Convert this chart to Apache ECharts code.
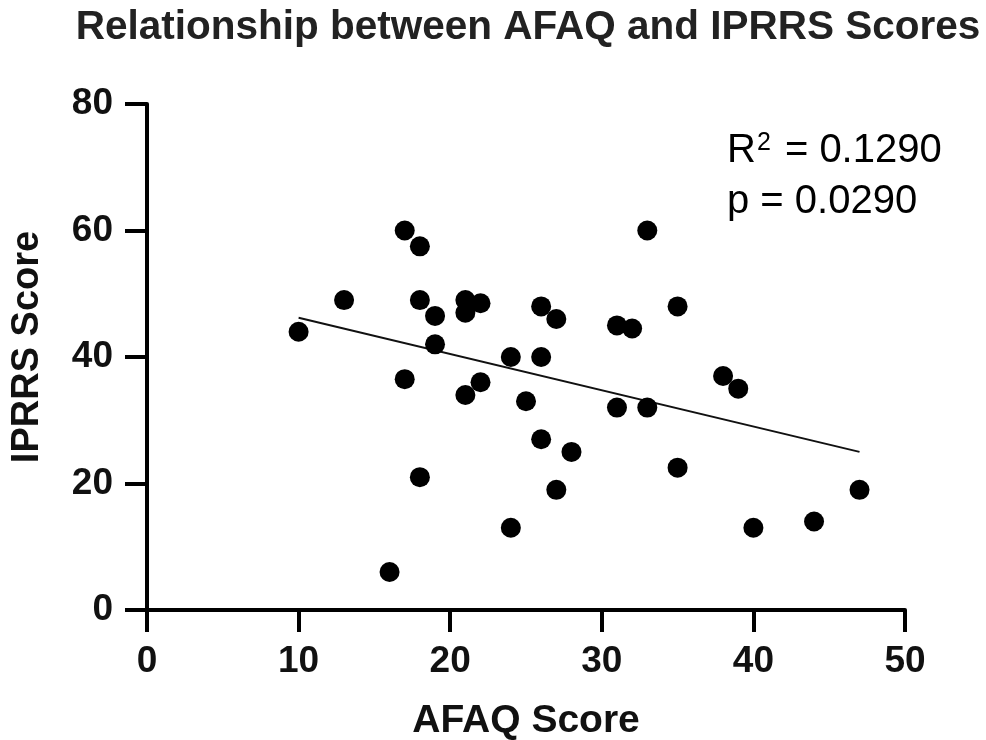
<!DOCTYPE html>
<html lang="en">
<head>
	<meta charset="UTF-8">
	<title>AFAQ vs IPRRS</title>
	<script src="https://cdn.jsdelivr.net/npm/echarts@6/dist/echarts.min.js"></script>
	<style>
		html, body { margin: 0; padding: 0; background: #fff; }
	</style>
</head>
<body>
	<div id="main" style="width:986px; height:740px"></div>
	<script>
		// AFAQ score per participant
		var afaq = [10, 13, 17, 18, 18, 19, 19, 17, 21, 21, 22, 21, 22, 16, 18, 24, 24, 25,
			26, 26, 27, 26, 27, 28, 31, 32, 31, 33, 33, 35, 35, 38, 39, 40, 44, 47];
		// IPRRS score per participant
		var iprrs = [44, 49, 60, 57.5, 49, 46.5, 42, 36.5, 49, 47, 48.5, 34, 36, 6, 21, 13, 40, 33,
			48, 40, 46, 27, 19, 25, 45, 44.5, 32, 60, 32, 48, 22.5, 37, 35, 13, 14, 19];
		// fitted line ends
		var fitX = [10, 47];
		var fitY = [46.2, 25.0];
		var xTicks = [0, 10, 20, 30, 40, 50];
		var yTicks = [0, 20, 40, 60, 80];

		var pts = afaq.map(function (v, i) { return [v, iprrs[i]]; });
		var fit = fitX.map(function (v, i) { return [v, fitY[i]]; });
		var font = "'Liberation Sans', Arial, sans-serif";

		var myChart = echarts.init(document.getElementById("main"));
		myChart.setOption({
			animation: false,
			title: {
				text: "Relationship between AFAQ and IPRRS Scores",
				left: 523,
				top: 2,
				textAlign: "center",
				textStyle: { fontFamily: font, fontSize: 40.5, fontWeight: "bold", color: "#222" }
			},
			grid: { left: 147, right: 81, top: 104, bottom: 130, containLabel: false, outerBoundsMode: "none" },
			xAxis: {
				type: "value",
				min: xTicks[0],
				max: xTicks[xTicks.length - 1],
				interval: 10,
				name: "AFAQ Score",
				nameLocation: "middle",
				nameGap: 92,
				nameTextStyle: { fontFamily: font, fontSize: 39, fontWeight: "bold", color: "#111" },
				axisLine: { lineStyle: { color: "#000", width: 4 } },
				axisTick: { length: 22, lineStyle: { color: "#000", width: 4 } },
				axisLabel: { fontFamily: font, fontSize: 37, fontWeight: "bold", color: "#111", margin: 33 },
				splitLine: { show: false }
			},
			yAxis: {
				type: "value",
				min: yTicks[0],
				max: yTicks[yTicks.length - 1],
				interval: 20,
				name: "IPRRS Score",
				nameLocation: "middle",
				nameGap: 100,
				nameTextStyle: { fontFamily: font, fontSize: 38, fontWeight: "bold", color: "#111", padding: [0, 0, 0, 20] },
				axisLine: { lineStyle: { color: "#000", width: 4 } },
				axisTick: { length: 22, lineStyle: { color: "#000", width: 4 } },
				axisLabel: { fontFamily: font, fontSize: 37, fontWeight: "bold", color: "#111", margin: 34 },
				splitLine: { show: false }
			},
			graphic: [{
				type: "text",
				left: 727,
				top: 125,
				style: {
					text: "{a|R}{s|2}{a| = 0.1290}\n{a|p = 0.0290}",
					rich: {
						a: { fontFamily: font, fontSize: 40, color: "#111", lineHeight: 51 },
						s: { fontFamily: font, fontSize: 25, color: "#111", verticalAlign: "top", lineHeight: 51, padding: [6, 3, 0, 1] }
					}
				}
			}],
			series: [{
				type: "scatter",
				data: pts,
				symbolSize: 20,
				itemStyle: { color: "#000", opacity: 1 }
			}, {
				type: "line",
				data: fit,
				showSymbol: false,
				lineStyle: { color: "#111", width: 2 },
				z: 1
			}]
		});
	</script>
</body>
</html>
